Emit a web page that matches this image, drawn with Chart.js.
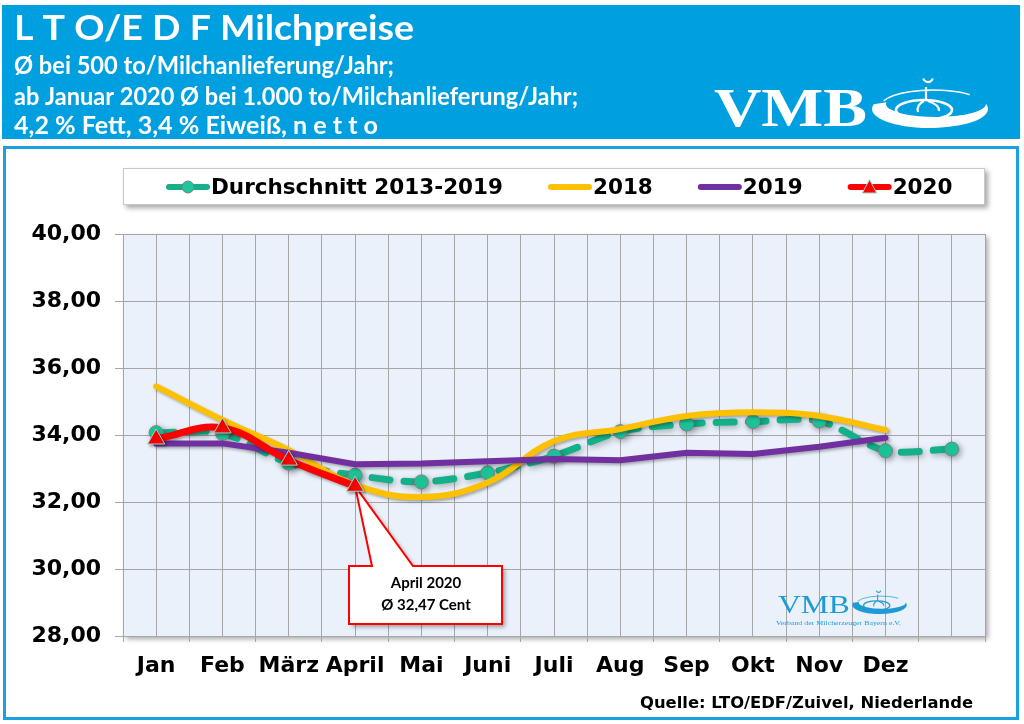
<!DOCTYPE html>
<html>
<head>
<meta charset="utf-8">
<script src="https://cdn.jsdelivr.net/npm/chart.js@4"></script>
<style>
  html, body { margin: 0; padding: 0; background: #fff; }
  #c { display: block; }
</style>
</head>
<body>
<canvas id="c" width="1024" height="724"></canvas>
<script>
// month labels (13th slot is empty, the average runs one step further)
const months = ['Jan', 'Feb', 'März', 'April', 'Mai', 'Juni', 'Juli', 'Aug', 'Sep', 'Okt', 'Nov', 'Dez', ''];
// Durchschnitt 2013-2019
const avg = [34.07, 34.05, 33.16, 32.8, 32.6, 32.87, 33.37, 34.1, 34.33, 34.4, 34.42, 33.53, 33.58];
const y2018 = [35.45, 34.45, 33.55, 32.51, 32.15, 32.58, 33.82, 34.18, 34.57, 34.68, 34.57, 34.15];
const y2019 = [33.75, 33.75, 33.47, 33.13, 33.15, 33.22, 33.28, 33.25, 33.47, 33.43, 33.65, 33.92];
const y2020 = [33.88, 34.21, 33.25, 32.47];
const yTicks = [28, 30, 32, 34, 36, 38, 40];

const headerLines = [
  'L T O/E D F Milchpreise',
  'Ø bei 500 to/Milchanlieferung/Jahr;',
  'ab Januar 2020 Ø bei 1.000 to/Milchanlieferung/Jahr;',
  '4,2 % Fett, 3,4 % Eiweiß, n e t t o'
];
const calloutText = ['April 2020', 'Ø 32,47 Cent'];
const sourceText = 'Quelle: LTO/EDF/Zuivel, Niederlande';

const GREEN = '#14B08A', GREEN_PT = '#1CC79C', YELLOW = '#FFC000', PURPLE = '#7030A0', RED = '#FF0000';
const FAMILY = '"DejaVu Sans", Verdana, sans-serif';

function pts(arr) { return arr.map((v, i) => ({ x: i, y: v })); }

// draw text squeezed/stretched to a given width
function fillFit(ctx, text, x, y, font, w) {
  ctx.font = font;
  const m = ctx.measureText(text).width;
  ctx.save();
  ctx.textAlign = 'left';
  ctx.translate(x, y);
  ctx.scale(w / m, 1);
  ctx.fillText(text, 0, 0);
  ctx.restore();
}

function drawLogo(ctx, x0, yb, s, color, sub, weight) {
  ctx.save();
  ctx.fillStyle = color;
  ctx.strokeStyle = color;
  ctx.textBaseline = 'alphabetic';
  fillFit(ctx, 'VMB', x0, yb, weight + ' ' + Math.round(54 * s) + 'px "Liberation Serif", "Times New Roman", serif', 153 * s);
  const cx = x0 + 216 * s, cy = yb - 17 * s;
  // swoosh: thick along the bottom, open at the top
  ctx.beginPath();
  ctx.ellipse(cx, cy, 58 * s, 19 * s, 0, Math.PI * 1.08, -0.12, true);
  ctx.ellipse(cx + 6 * s, cy - 5 * s, 50 * s, 13 * s, 0, -0.05, Math.PI * 1.04, false);
  ctx.closePath();
  ctx.fill();
  ctx.lineWidth = 1.5 * s;
  ctx.beginPath();
  ctx.ellipse(cx + 3 * s, cy - 3 * s, 52 * s, 16 * s, 0, Math.PI * 1.1, Math.PI * 1.75, false);
  ctx.stroke();
  // inner ring
  ctx.lineWidth = 2.6 * s;
  ctx.beginPath();
  ctx.ellipse(cx - 6 * s, cy + 1 * s, 28 * s, 10 * s, 0, 0, Math.PI * 2);
  ctx.stroke();
  // little figure
  ctx.lineWidth = 2.2 * s;
  ctx.beginPath();
  ctx.moveTo(cx - 4 * s, cy - 22 * s);
  ctx.lineTo(cx - 4 * s, cy - 8 * s);
  ctx.moveTo(cx - 6 * s, cy - 8 * s);
  ctx.quadraticCurveTo(cx - 14 * s, cy - 4 * s, cx - 12 * s, cy + 3 * s);
  ctx.moveTo(cx - 2 * s, cy - 8 * s);
  ctx.quadraticCurveTo(cx + 10 * s, cy - 4 * s, cx + 9 * s, cy + 2 * s);
  ctx.stroke();
  // moon
  ctx.beginPath();
  ctx.arc(cx - 2 * s, cy - 32 * s, 5 * s, 0.3, Math.PI - 0.3);
  ctx.stroke();
  if (sub) {
    fillFit(ctx, sub, x0 - 2, yb + 12, '7px "Liberation Serif", serif', 125);
  }
  ctx.restore();
}

const pagePlugin = {
  id: 'page',
  beforeDraw(chart) {
    const ctx = chart.ctx;
    const a = chart.chartArea;
    ctx.save();
    ctx.fillStyle = '#fff';
    ctx.fillRect(0, 0, chart.width, chart.height);
    // header
    ctx.fillStyle = '#009FE0';
    ctx.fillRect(2, 5, 1018, 134);
    ctx.fillStyle = '#fff';
    ctx.textBaseline = 'alphabetic';
    fillFit(ctx, headerLines[0], 14, 40, 'bold 35px Lato, sans-serif', 400);
    fillFit(ctx, headerLines[1], 14, 74, 'bold 24px Lato, sans-serif', 380);
    fillFit(ctx, headerLines[2], 14, 105, 'bold 24px Lato, sans-serif', 564);
    fillFit(ctx, headerLines[3], 14, 134, 'bold 24px Lato, sans-serif', 364);
    drawLogo(ctx, 714, 126, 1, '#fff', null, 'bold');
    // frame
    ctx.strokeStyle = '#1BA1E2';
    ctx.lineWidth = 3;
    ctx.strokeRect(4.5, 147.5, 1013, 571);
    // legend box
    ctx.shadowColor = 'rgba(0,0,0,0.35)';
    ctx.shadowBlur = 5;
    ctx.shadowOffsetX = 3;
    ctx.shadowOffsetY = 3;
    ctx.fillStyle = '#fff';
    ctx.fillRect(123, 168, 862, 37);
    // plot background with shadow
    ctx.fillStyle = '#EAF1FA';
    ctx.fillRect(a.left, a.top, a.right - a.left, a.bottom - a.top);
    ctx.shadowColor = 'transparent';
    ctx.strokeStyle = '#C8C8C8';
    ctx.lineWidth = 1;
    ctx.strokeRect(123.5, 168.5, 861, 36);
    // legend items
    const items = [
      { label: 'Durchschnitt 2013-2019', color: GREEN, marker: 'circle' },
      { label: '2018', color: YELLOW },
      { label: '2019', color: PURPLE },
      { label: '2020', color: RED, marker: 'triangle' }
    ];
    ctx.font = 'bold 21.5px ' + FAMILY;
    ctx.textBaseline = 'middle';
    let x = 166;
    const ly = 187;
    items.forEach(it => {
      ctx.strokeStyle = it.color;
      ctx.lineWidth = 6;
      ctx.lineCap = 'round';
      ctx.beginPath();
      ctx.moveTo(x + 3, ly);
      ctx.lineTo(x + 41, ly);
      ctx.stroke();
      if (it.marker === 'circle') {
        ctx.fillStyle = GREEN_PT;
        ctx.strokeStyle = '#808080';
        ctx.lineWidth = 1;
        ctx.beginPath();
        ctx.arc(x + 22, ly, 6, 0, Math.PI * 2);
        ctx.fill();
        ctx.stroke();
      } else if (it.marker === 'triangle') {
        ctx.fillStyle = RED;
        ctx.strokeStyle = '#9FD8C8';
        ctx.lineWidth = 1;
        ctx.beginPath();
        ctx.moveTo(x + 22, ly - 7);
        ctx.lineTo(x + 29, ly + 6);
        ctx.lineTo(x + 15, ly + 6);
        ctx.closePath();
        ctx.fill();
        ctx.stroke();
      }
      ctx.fillStyle = '#000';
      ctx.fillText(it.label, x + 45, ly + 1);
      x += 45 + ctx.measureText(it.label).width + 45;
    });
    ctx.restore();
  },
  beforeDatasetsDraw(chart) {
    const ctx = chart.ctx;
    const xs = chart.scales.x, ys = chart.scales.y;
    // watermark logo
    drawLogo(ctx, 778, 613, 0.47, '#1E9BD7', 'Verband der Milcherzeuger Bayern e.V.', 'normal');
    // callout for April 2020
    const tx = xs.getPixelForValue(3), ty = ys.getPixelForValue(y2020[3]);
    const L = 349, R = 502, T = 566, B = 624;
    ctx.save();
    ctx.beginPath();
    ctx.moveTo(L, T);
    ctx.lineTo(372, T);
    ctx.lineTo(tx, ty);
    ctx.lineTo(413, T);
    ctx.lineTo(R, T);
    ctx.lineTo(R, B);
    ctx.lineTo(L, B);
    ctx.closePath();
    ctx.shadowColor = 'rgba(0,0,0,0.35)';
    ctx.shadowBlur = 4;
    ctx.shadowOffsetX = 3;
    ctx.shadowOffsetY = 3;
    ctx.fillStyle = '#fff';
    ctx.fill();
    ctx.shadowColor = 'transparent';
    ctx.strokeStyle = RED;
    ctx.lineWidth = 2;
    ctx.lineJoin = 'miter';
    ctx.stroke();
    ctx.fillStyle = '#000';
    ctx.textAlign = 'center';
    ctx.textBaseline = 'middle';
    ctx.font = 'bold 15px Lato, sans-serif';
    ctx.fillText(calloutText[0], 426, 583);
    ctx.fillText(calloutText[1], 426, 605);
    ctx.restore();
  },
  beforeDatasetDraw(chart, args) {
    const ctx = chart.ctx;
    ctx.save();
    ctx.shadowColor = 'rgba(0,0,0,0.3)';
    ctx.shadowBlur = args.index === 0 ? 6 : 3;
    ctx.shadowOffsetX = 2;
    ctx.shadowOffsetY = 2;
  },
  afterDatasetDraw(chart) {
    chart.ctx.restore();
  },
  afterDraw(chart) {
    const ctx = chart.ctx;
    ctx.save();
    ctx.fillStyle = '#000';
    ctx.textBaseline = 'alphabetic';
    fillFit(ctx, sourceText, 640, 708, 'bold 16px ' + FAMILY, 333);
    ctx.restore();
  }
};

new Chart(document.getElementById('c'), {
  type: 'line',
  data: {
    datasets: [
      {
        label: 'Durchschnitt 2013-2019',
        data: pts(avg),
        borderColor: GREEN,
        borderWidth: 7,
        borderDash: [18, 14],
        borderCapStyle: 'round',
        tension: 0.3,
        pointRadius: 7,
        pointBackgroundColor: GREEN_PT,
        pointBorderColor: '#808080',
        pointBorderWidth: 1,
        order: 3
      },
      {
        label: '2018',
        data: pts(y2018),
        borderColor: YELLOW,
        borderWidth: 6,
        borderCapStyle: 'round',
        tension: 0.4,
        pointRadius: 0,
        order: 2
      },
      {
        label: '2019',
        data: pts(y2019),
        borderColor: PURPLE,
        borderWidth: 6,
        borderCapStyle: 'round',
        tension: 0,
        pointRadius: 0,
        order: 1
      },
      {
        label: '2020',
        data: pts(y2020),
        borderColor: RED,
        borderWidth: 7,
        borderCapStyle: 'round',
        tension: 0.4,
        pointStyle: 'triangle',
        pointRadius: 10,
        pointBackgroundColor: RED,
        pointBorderColor: '#9FD8C8',
        pointBorderWidth: 1,
        order: 0
      }
    ]
  },
  options: {
    responsive: false,
    animation: false,
    layout: { padding: { left: 10, right: 39, top: 234, bottom: 28 } },
    plugins: { legend: { display: false }, tooltip: { enabled: false } },
    scales: {
      x: {
        type: 'linear',
        min: -0.5,
        max: 12.5,
        afterFit(scale) { scale.height = 60; },
        ticks: {
          stepSize: 0.5,
          autoSkip: false,
          maxRotation: 0,
          padding: 11,
          color: '#000',
          font: { family: FAMILY, size: 22, weight: 'bold' },
          callback(v) { return Number.isInteger(v) ? months[v] : ''; }
        },
        grid: {
          color: '#A6A6A6',
          lineWidth: 1,
          tickLength: 6,
          tickColor(c) { return c.tick && Number.isInteger(c.tick.value) ? 'rgba(0,0,0,0)' : '#A6A6A6'; }
        },
        border: { color: '#A6A6A6' }
      },
      y: {
        min: 28,
        max: 40,
        afterFit(scale) { scale.width = 113; },
        afterBuildTicks(scale) { scale.ticks = yTicks.map(v => ({ value: v })); },
        ticks: {
          padding: 14,
          color: '#000',
          font: { family: FAMILY, size: 22, weight: 'bold' },
          callback(v) { return v.toFixed(2).replace('.', ','); }
        },
        grid: { color: '#A6A6A6', lineWidth: 1, tickLength: 8 },
        border: { color: '#A6A6A6' }
      }
    }
  },
  plugins: [pagePlugin]
});
</script>
</body>
</html>
